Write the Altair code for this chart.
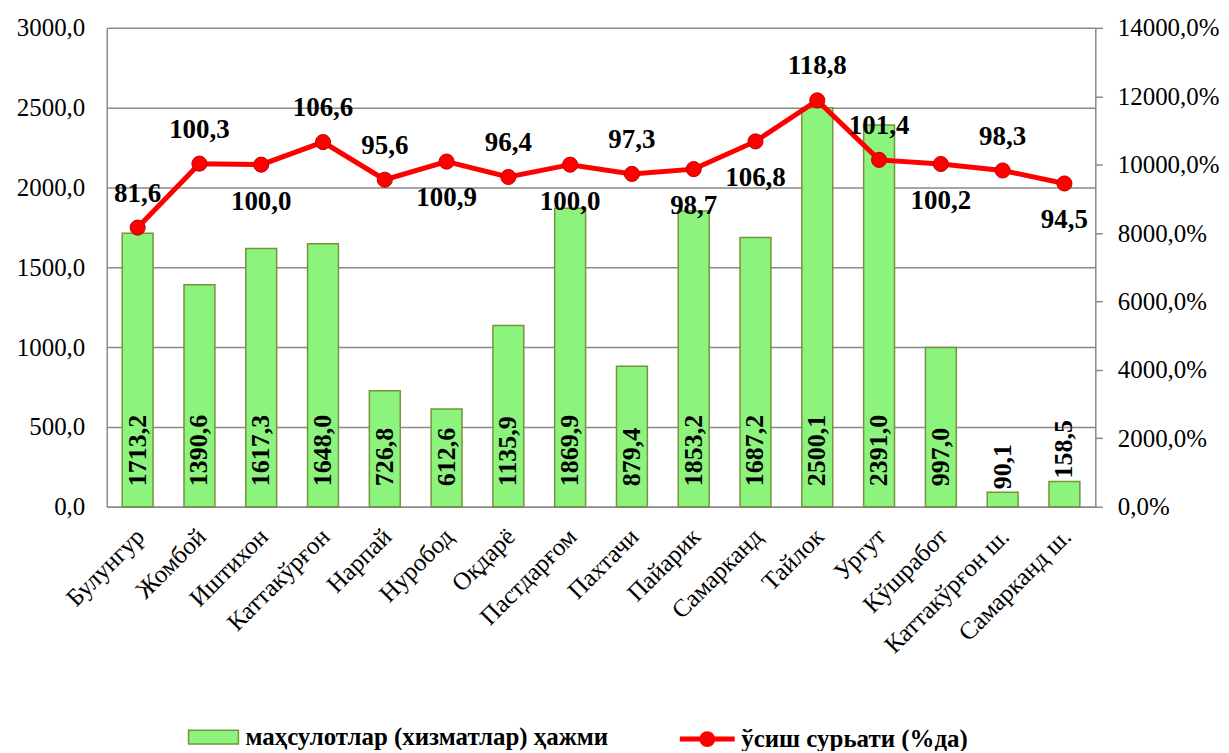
import altair as alt
import pandas as pd

districts = ["Булунгур", "Жомбой", "Иштихон", "Каттакўрғон", "Нарпай", "Нуробод",
             "Оқдарё", "Пастдарғом", "Пахтачи", "Пайарик", "Самарканд", "Тайлок",
             "Ургут", "Кўшработ", "Каттакўрғон ш.", "Самарканд ш."]
volume = [1713.2, 1390.6, 1617.3, 1648.0, 726.8, 612.6, 1135.9, 1869.9,
          879.4, 1853.2, 1687.2, 2500.1, 2391.0, 997.0, 90.1, 158.5]
growth = [81.6, 100.3, 100.0, 106.6, 95.6, 100.9, 96.4, 100.0,
          97.3, 98.7, 106.8, 118.8, 101.4, 100.2, 98.3, 94.5]
growth_label_side = ["above", "above", "below", "above", "above", "below", "above", "below",
                     "above", "below", "below", "above", "above", "below", "above", "below"]
bar_series = "маҳсулотлар (хизматлар) ҳажми"
line_series = "ўсиш сурьати (%да)"
left_ticks = [0, 500, 1000, 1500, 2000, 2500, 3000]
right_ticks = [0, 2000, 4000, 6000, 8000, 10000, 12000, 14000]

df = pd.DataFrame({
    "district": districts,
    "volume": volume,
    "growth": growth,
    "side": growth_label_side,
    "bar_series": [bar_series] * len(districts),
    "line_series": [line_series] * len(districts),
})

FONT = "Liberation Serif"
GRID = "#898989"
BAR_FILL = "#8CF47C"
BAR_STROKE = "#77933C"
RED = "#FF0000"

base = alt.Chart(df).transform_calculate(
    pct="datum.growth * 100",
    vol_label="replace(format(datum.volume, '.1f'), '.', ',')",
    gr_label="replace(format(datum.growth, '.1f'), '.', ',')",
    label_y="datum.volume < 400 ? datum.volume : 110",
)

x_scale = alt.Scale(paddingInner=0.5, paddingOuter=0.25)
x_ax = alt.Axis(title=None, labelAngle=-45, labelFont=FONT, labelFontSize=25,
                labelColor="black", domainColor=GRID, domainWidth=1.5,
                ticks=False, labelPadding=17, labelOffset=-6, labelOverlap=False)


def X():
    return alt.X("district:N", sort=districts, scale=x_scale, axis=x_ax, title=None)


left_scale = alt.Scale(domain=[0, 3000])
right_scale = alt.Scale(domain=[0, 14000])

left_ax = alt.Axis(title=None, values=left_ticks,
                   labelExpr="replace(format(datum.value, '.1f'), '.', ',')",
                   grid=True, gridColor=GRID, gridWidth=1.5, ticks=False,
                   domainColor=GRID, domainWidth=1.5, labelFont=FONT,
                   labelFontSize=25, labelColor="black", labelPadding=22)
right_ax = alt.Axis(title=None, orient="right", values=right_ticks,
                    labelExpr="replace(format(datum.value, '.1f'), '.', ',') + '%'",
                    grid=False, ticks=True, tickSize=7, tickColor=GRID, tickWidth=1.5,
                    domainColor=GRID, domainWidth=1.5, labelFont=FONT,
                    labelFontSize=25, labelColor="black", labelPadding=15)

rect_path = "M-1,-0.28H1V0.28H-1Z"
line_path = "M-1,0H1M0.2,0A0.2,0.2,0,1,1,-0.2,0A0.2,0.2,0,1,1,0.2,0Z"

bars = base.mark_bar(stroke=BAR_STROKE, strokeWidth=1.5).encode(
    x=X(),
    y=alt.Y("volume:Q", scale=left_scale, axis=left_ax, title=None),
    fill=alt.Fill("bar_series:N",
                  scale=alt.Scale(domain=[bar_series], range=[BAR_FILL]),
                  legend=alt.Legend(title=None, orient="none", legendX=81, legendY=685,
                                    padding=0, symbolType=rect_path, symbolSize=2500,
                                    symbolStrokeColor=BAR_STROKE, symbolStrokeWidth=1.5,
                                    labelFont=FONT, labelFontWeight="bold", labelFontSize=25,
                                    labelColor="black", labelOffset=6, labelLimit=600)),
)

bar_text = base.mark_text(angle=270, align="left", baseline="middle", dx=3,
                          font=FONT, fontWeight="bold", fontSize=26, color="black").encode(
    x=X(),
    y=alt.Y("label_y:Q", scale=left_scale, axis=left_ax, title=None),
    text="vol_label:N",
)

line = base.mark_line(color=RED, strokeWidth=5).encode(
    x=X(),
    y=alt.Y("pct:Q", scale=right_scale, axis=right_ax, title=None),
)

points = base.mark_point(filled=True, size=230, opacity=1, stroke="#C00000", strokeWidth=1).encode(
    x=X(),
    y=alt.Y("pct:Q", scale=right_scale, axis=right_ax, title=None),
    fill=alt.Fill("line_series:N",
                  scale=alt.Scale(domain=[line_series], range=[RED]),
                  legend=alt.Legend(title=None, orient="none", legendX=572, legendY=683,
                                    padding=0, symbolType=line_path, symbolSize=3025,
                                    symbolStrokeColor=RED, symbolStrokeWidth=5,
                                    symbolFillColor=RED, symbolOpacity=1,
                                    labelFont=FONT, labelFontWeight="bold", labelFontSize=25,
                                    labelColor="black", labelOffset=4, labelLimit=600)),
)

above_text = base.transform_filter("datum.side == 'above'").mark_text(
    baseline="middle", dy=-34, font=FONT, fontWeight="bold", fontSize=27, color="black").encode(
    x=X(), y=alt.Y("pct:Q", scale=right_scale, axis=right_ax, title=None), text="gr_label:N")

below_text = base.transform_filter("datum.side == 'below'").mark_text(
    baseline="middle", dy=37, font=FONT, fontWeight="bold", fontSize=27, color="black").encode(
    x=X(), y=alt.Y("pct:Q", scale=right_scale, axis=right_ax, title=None), text="gr_label:N")

left = alt.layer(bars, bar_text)
right = alt.layer(line, points, above_text, below_text)

chart = alt.layer(left, right).resolve_scale(
    y="independent", fill="independent"
).properties(
    width=991, height=480,
    padding={"left": 99, "top": 19, "right": 126, "bottom": 244},
    autosize=alt.AutoSizeParams(type="none"),
).configure(
    background="white", font=FONT
).configure_view(
    stroke=None
).configure_axis(
    labelFont=FONT, titleFont=FONT
).configure_legend(
    labelFont=FONT, titleFont=FONT
).configure_text(
    font=FONT
)

chart.save("out.html", embed_options={"renderer": "svg", "actions": False})
